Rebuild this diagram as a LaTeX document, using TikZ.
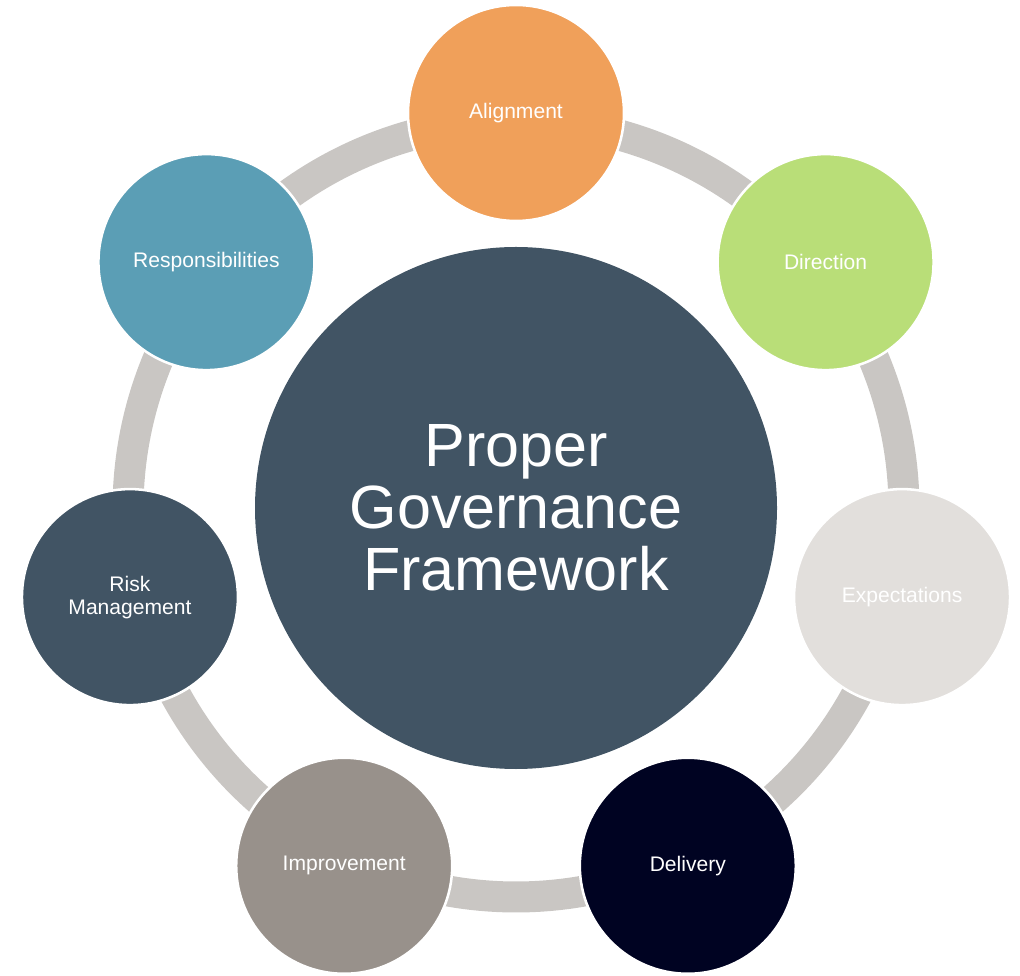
\documentclass[tikz,border=0pt]{standalone}
\usepackage{fontspec}
\setmainfont{Liberation Sans}
\definecolor{ringgray}{RGB}{201,198,195}
\definecolor{hubslate}{RGB}{65,84,100}
\definecolor{orangec}{RGB}{240,160,90}
\definecolor{greenc}{RGB}{185,222,120}
\definecolor{lightc}{RGB}{226,223,220}
\definecolor{navyc}{RGB}{0,3,34}
\definecolor{taupec}{RGB}{152,145,139}
\definecolor{tealc}{RGB}{91,158,181}
\begin{document}
\begin{tikzpicture}[x=0.75pt,y=0.75pt,
  sat/.style={circle, draw=white, line width=1.9pt, minimum size=162pt,
    inner sep=0pt, text=white, align=center,
    font=\fontsize{15.8pt}{17.3pt}\selectfont},
  hub/.style={circle, fill=hubslate, minimum size=391.5pt, inner sep=0pt,
    text=white, align=center, font=\fontsize{45.8pt}{46.5pt}\selectfont},
  band/.style={draw=ringgray, line width=23.25pt}]
\useasboundingbox (0,0) rectangle (1020,975);
\coordinate (c) at (516,466);

% ring segments joining neighbouring circles
\foreach \k in {0,...,6}{
  \pgfmathsetmacro\s{90-51.4286*\k-15}
  \pgfmathsetmacro\e{90-51.4286*(\k+1)+15}
  \draw[band] (c) ++(\s:291pt) arc[start angle=\s, end angle=\e, radius=291pt];
}

% central circle
\node[hub] (hub) at ([yshift=0.75pt]c) {Proper\\Governance\\Framework};

% surrounding circles
\node[sat, fill=orangec] (align) at ([shift={(90:297pt)}]c) {Alignment};
\node[sat, fill=greenc]  (dir)   at ([shift={(38.571:297pt)}]c) {Direction};
\node[sat, fill=lightc]  (expt)  at ([shift={(-12.857:297pt)}]c) {Expectations};
\node[sat, fill=navyc]   (deliv) at ([shift={(-64.286:297pt)}]c) {Delivery};
\node[sat, fill=taupec]  (impr)  at ([shift={(-115.714:297pt)}]c) {Improvement};
\node[sat, fill=hubslate](risk)  at ([shift={(-167.143:297pt)}]c) {Risk\\Management};
\node[sat, fill=tealc]   (resp)  at ([shift={(141.429:297pt)}]c) {Responsibilities};
\end{tikzpicture}
\end{document}
